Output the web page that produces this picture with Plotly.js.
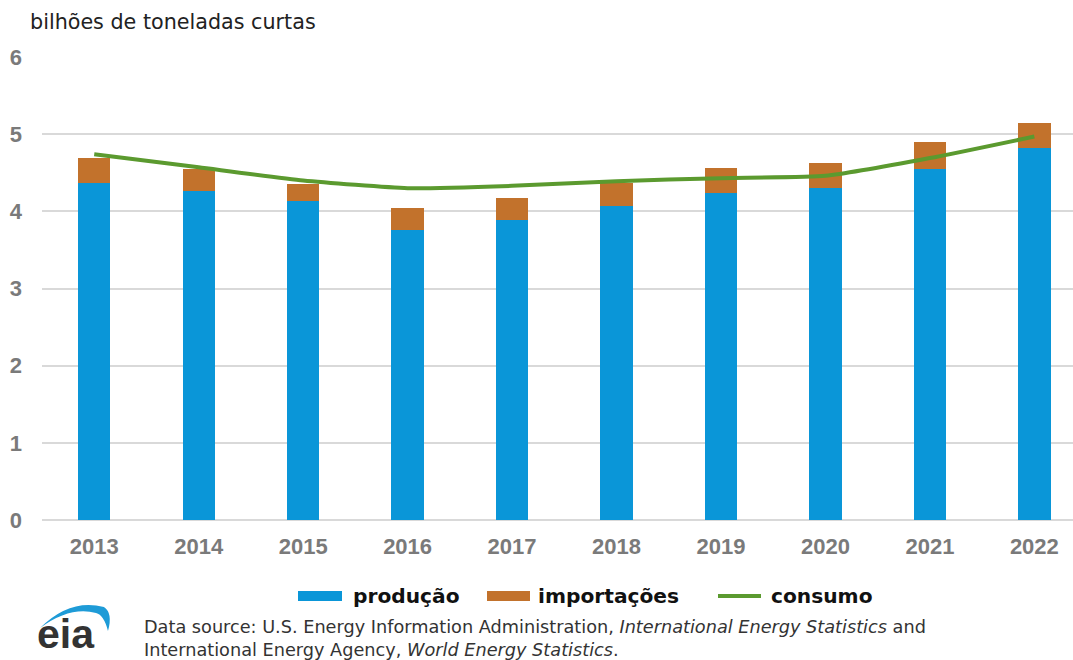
<!DOCTYPE html>
<html>
<head>
<meta charset="utf-8">
<script src="https://cdn.plot.ly/plotly-3.0.1.min.js"></script>
<style>html,body{margin:0;padding:0;background:#fff;}#chart{width:1073px;height:660px;}</style>
</head>
<body>
<div id="chart"></div>
<script>
// Data (billion short tons)
const years = ['2013','2014','2015','2016','2017','2018','2019','2020','2021','2022'];
const producao = [4.37, 4.26, 4.13, 3.76, 3.89, 4.07, 4.24, 4.30, 4.55, 4.82];
const importacoes = [0.32, 0.29, 0.22, 0.28, 0.28, 0.30, 0.32, 0.33, 0.35, 0.32];
const consumo = [4.74, 4.57, 4.40, 4.30, 4.33, 4.39, 4.43, 4.46, 4.69, 4.97];
const yTicks = [0, 1, 2, 3, 4, 5, 6];
const seriesNames = ['produção', 'importações', 'consumo'];

const W = 1073, H = 660, L = 42, R = 0, T = 57, B = 140;
const pw = W - L - R, ph = H - T - B;
const px = x => (x - L) / pw;
const py = y => (H - B - y) / ph;

const BLUE = '#0a96d8', ORANGE = '#c2722c', GREEN = '#5b9a2f';
const FONT = 'Liberation Sans, Arial, sans-serif';
const WIDE = 'DejaVu Sans, Verdana, sans-serif';

const traces = [
  {type: 'bar', x: years, y: producao, name: seriesNames[0], marker: {color: BLUE}, showlegend: false, hoverinfo: 'skip'},
  {type: 'bar', x: years, y: importacoes, name: seriesNames[1], marker: {color: ORANGE}, showlegend: false, hoverinfo: 'skip'},
  {type: 'scatter', mode: 'lines', x: years, y: consumo, name: seriesNames[2], line: {color: GREEN, width: 4, shape: 'spline', smoothing: 0.5}, showlegend: false, hoverinfo: 'skip'}
];

function arcPath() {
  const pts = [[40,628],[70,598],[104,607],[113,613],[108,631],[104,615],[96,613],[70,606],[40,628]];
  const c = pts.map(p => [px(p[0]).toFixed(4), py(p[1]).toFixed(4)]);
  return `M ${c[0][0]},${c[0][1]} Q ${c[1][0]},${c[1][1]} ${c[2][0]},${c[2][1]} Q ${c[3][0]},${c[3][1]} ${c[4][0]},${c[4][1]} Q ${c[5][0]},${c[5][1]} ${c[6][0]},${c[6][1]} Q ${c[7][0]},${c[7][1]} ${c[8][0]},${c[8][1]} Z`;
}

const legendText = {font: {family: WIDE, size: 20.2, color: '#111', weight: 'bold'}};
const tickFont = {family: FONT, size: 22, color: '#7a7a7a', weight: 'bold'};
const layout = {
  width: W, height: H,
  margin: {l: L, r: R, t: T, b: B, pad: 0},
  paper_bgcolor: '#fff', plot_bgcolor: '#fff',
  barmode: 'stack', bargap: 0.69,
  showlegend: false,
  hovermode: false,
  title: {text: 'bilhões de toneladas curtas', xref: 'container', yref: 'container', x: 30 / W, xanchor: 'left', y: 1 - 22 / H, yanchor: 'middle',
          font: {family: WIDE, size: 20.7, color: '#222'}},
  xaxis: {type: 'category', range: [-0.5, 9.37], showgrid: false, zeroline: false, showline: false, ticks: '',
          tickfont: tickFont, ticklabelstandoff: 11, fixedrange: true},
  yaxis: {range: [0, 6], tickvals: yTicks, ticktext: yTicks.map(String), showgrid: true, gridcolor: '#d9d9d9', gridwidth: 2,
          zeroline: true, zerolinecolor: '#d9d9d9', zerolinewidth: 2, showline: false, ticks: '',
          tickfont: tickFont, ticklabelstandoff: 19, fixedrange: true},
  shapes: [
    {type: 'rect', xref: 'paper', yref: 'paper', x0: px(298), x1: px(342), y0: py(601), y1: py(591), fillcolor: BLUE, line: {width: 0}},
    {type: 'rect', xref: 'paper', yref: 'paper', x0: px(487), x1: px(530), y0: py(601), y1: py(591), fillcolor: ORANGE, line: {width: 0}},
    {type: 'line', xref: 'paper', yref: 'paper', x0: px(718), x1: px(761), y0: py(596), y1: py(596), line: {color: GREEN, width: 4}},
    {type: 'path', xref: 'paper', yref: 'paper', path: arcPath(), fillcolor: '#1e9bd7', line: {width: 0}}
  ],
  annotations: [
    Object.assign({xref: 'paper', yref: 'paper', x: px(351), y: py(596), xanchor: 'left', yanchor: 'middle', showarrow: false, text: seriesNames[0]}, legendText),
    Object.assign({xref: 'paper', yref: 'paper', x: px(536), y: py(596), xanchor: 'left', yanchor: 'middle', showarrow: false, text: seriesNames[1]}, legendText),
    Object.assign({xref: 'paper', yref: 'paper', x: px(769), y: py(596), xanchor: 'left', yanchor: 'middle', showarrow: false, text: seriesNames[2]}, legendText),
    {xref: 'paper', yref: 'paper', x: px(142), y: py(638), xanchor: 'left', yanchor: 'middle', showarrow: false, align: 'left',
     text: 'Data source: U.S. Energy Information Administration, <i>International Energy Statistics</i> and<br>International Energy Agency, <i>World Energy Statistics</i>.',
     font: {family: WIDE, size: 17.7, color: '#333'}},
    {xref: 'paper', yref: 'paper', x: px(35), y: py(634), xanchor: 'left', yanchor: 'middle', showarrow: false, text: 'eia',
     font: {family: FONT, size: 41, color: '#333', weight: 'bold'}}
  ]
};

Plotly.newPlot('chart', traces, layout, {displayModeBar: false, staticPlot: true});
</script>
</body>
</html>
